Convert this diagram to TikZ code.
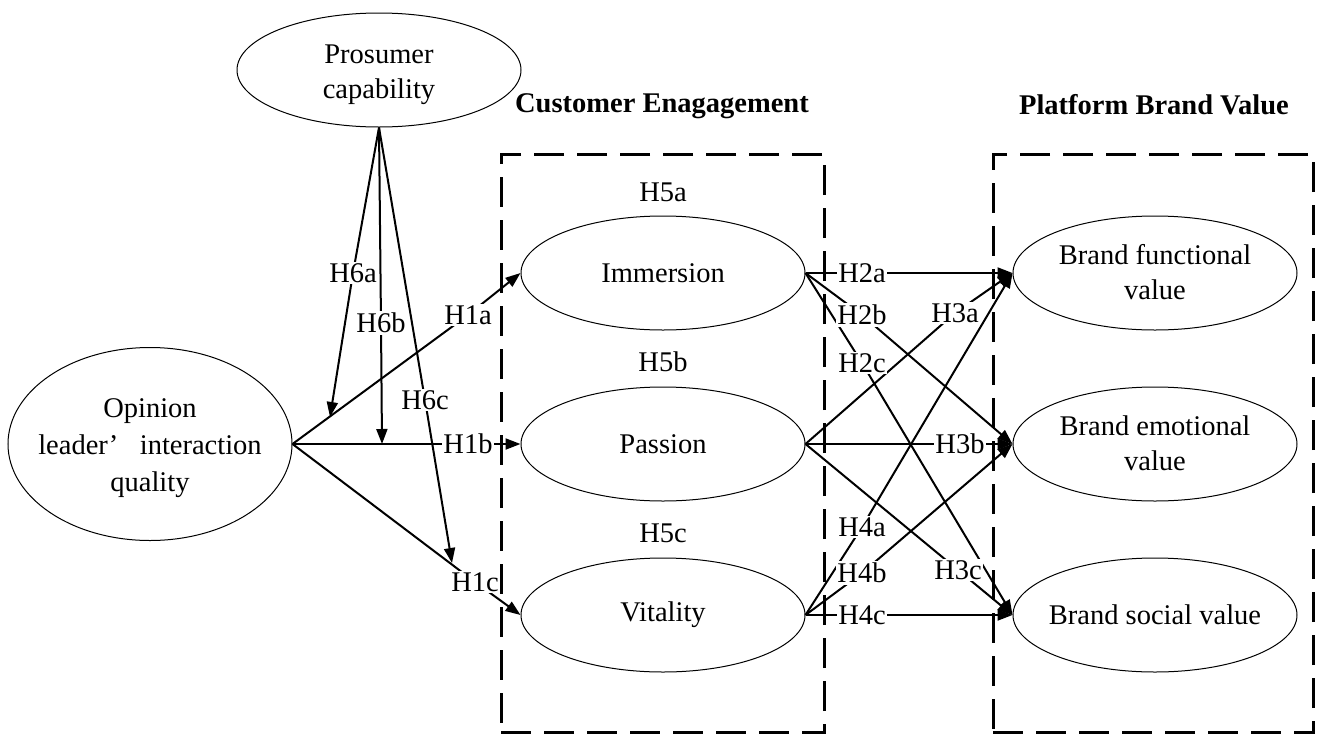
\documentclass[tikz,border=0pt]{standalone}
\usepackage{fontspec}
\setmainfont{Liberation Serif}
\usetikzlibrary{shapes.geometric,arrows.meta}
\begin{document}
\begin{tikzpicture}[x=1pt,y=-1pt,
  every node/.style={font=\fontsize{28.5}{35}\selectfont},
  ell/.style={draw, ellipse, line width=1pt, minimum width=284pt, minimum height=114pt, inner sep=0pt, inner xsep=-15pt, align=center},
  conn/.style={line width=2pt, -{Triangle[length=15pt,width=11pt]}},
  lab/.style={fill=white, inner sep=1.5pt},
  grp/.style={draw, line width=3pt, dash pattern=on 30pt off 13pt, inner sep=0pt},
  ttl/.style={font=\fontsize{28.5}{35}\selectfont\bfseries}]
\useasboundingbox (0,0) rectangle (1326,734);

% group boxes
\node[grp, minimum width=323pt, minimum height=578pt] (ceb) at (662.5,443) {};
\node[grp, minimum width=320pt, minimum height=578pt] (pbb) at (1153,443) {};
\node[ttl] (tce) at (662,106) {Customer Enagagement};
\node[ttl] (tpb) at (1154,105) {Platform Brand Value};

% ellipses
\node[ell] (pc) at (379,70) {\raisebox{-4pt}[\height][\depth]{\begin{tabular}{@{}c@{}}Prosumer\\capability\end{tabular}}};
\node[ell, minimum height=193pt, font=\fontsize{28.5}{37}\selectfont] (ol) at (150,444) {\raisebox{-3pt}[\height][\depth]{\begin{tabular}{@{}c@{}}Opinion\\leader’\hspace{0.75em}interaction\\quality\end{tabular}}};
\node[ell] (imm) at (663,273) {Immersion};
\node[ell] (pas) at (663,444) {Passion};
\node[ell] (vit) at (663,615) {Vitality};
\node[ell] (bf) at (1155,273) {\raisebox{-2pt}[\height][\depth]{\begin{tabular}{@{}c@{}}Brand functional\\value\end{tabular}}};
\node[ell] (be) at (1155,444) {\raisebox{-2pt}[\height][\depth]{\begin{tabular}{@{}c@{}}Brand emotional\\value\end{tabular}}};
\node[ell] (bs) at (1155,615) {Brand social value};

% H5 labels
\node (h5a) at (663,192) {H5a};
\node (h5b) at (663,362) {H5b};
\node (h5c) at (663,533) {H5c};

% label positions
\coordinate (c1a) at (468,315);
\coordinate (c1b) at (468,444);
\coordinate (c1c) at (475,582);
\coordinate (c6a) at (353,273);
\coordinate (c6b) at (381,323);
\coordinate (c6c) at (425,400);
\coordinate (t6a) at (330,417);
\coordinate (t6b) at (382,444);
\coordinate (t6c) at (452,563);
\coordinate (c2a) at (862,273);
\coordinate (c2b) at (862,315);
\coordinate (c2c) at (862,363);
\coordinate (c3a) at (955,313);
\coordinate (c3b) at (960,444);
\coordinate (c3c) at (958,570);
\coordinate (c4a) at (862,527);
\coordinate (c4b) at (862,573);
\coordinate (c4c) at (862,615);

% connectors
\draw[conn] (ol.east) -- (c1a) -- (imm.west);
\draw[conn] (ol.east) -- (c1b) -- (pas.west);
\draw[conn] (ol.east) -- (c1c) -- (vit.west);
\draw[conn] (pc.south) -- (c6a) -- (t6a);
\draw[conn] (pc.south) -- (c6b) -- (t6b);
\draw[conn] (pc.south) -- (c6c) -- (t6c);
\draw[conn] (imm.east) -- (c2a) -- (bf.west);
\draw[conn] (imm.east) -- (c2b) -- (be.west);
\draw[conn] (imm.east) -- (c2c) -- (bs.west);
\draw[conn] (pas.east) -- (c3a) -- (bf.west);
\draw[conn] (pas.east) -- (c3b) -- (be.west);
\draw[conn] (pas.east) -- (c3c) -- (bs.west);
\draw[conn] (vit.east) -- (c4a) -- (bf.west);
\draw[conn] (vit.east) -- (c4b) -- (be.west);
\draw[conn] (vit.east) -- (c4c) -- (bs.west);

% connector labels
\node[lab] (l1a) at (c1a) {H1a};
\node[lab] (l1b) at (c1b) {H1b};
\node[lab] (l1c) at (c1c) {H1c};
\node[lab] (l6a) at (c6a) {H6a};
\node[lab] (l6b) at (c6b) {H6b};
\node[lab] (l6c) at (c6c) {H6c};
\node[lab] (l2a) at (c2a) {H2a};
\node[lab] (l2b) at (c2b) {H2b};
\node[lab] (l2c) at (c2c) {H2c};
\node[lab] (l3a) at (c3a) {H3a};
\node[lab] (l3b) at (c3b) {H3b};
\node[lab] (l3c) at (c3c) {H3c};
\node[lab] (l4a) at (c4a) {H4a};
\node[lab] (l4b) at (c4b) {H4b};
\node[lab] (l4c) at (c4c) {H4c};
\end{tikzpicture}
\end{document}
